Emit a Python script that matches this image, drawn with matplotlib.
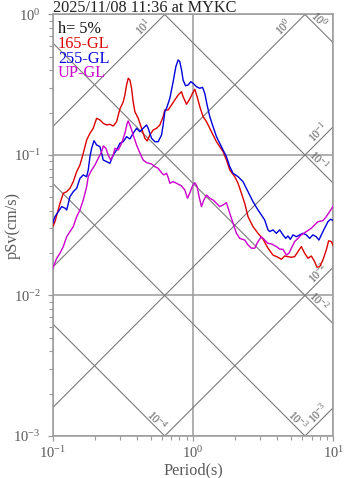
import numpy as np
import matplotlib
matplotlib.use("Agg")
import matplotlib.pyplot as plt
from matplotlib.ticker import LogLocator, NullFormatter

plt.rcParams["font.family"] = ["Liberation Serif", "DejaVu Serif"]
plt.rcParams["mathtext.fontset"] = "custom"
plt.rcParams["mathtext.rm"] = "Liberation Serif"
plt.rcParams["mathtext.it"] = "Liberation Serif:italic"
plt.rcParams["mathtext.bf"] = "Liberation Serif:bold"

TITLE = "2025/11/08 11:36 at MYKC"
DAMPING = "h= 5%"

# -------------------------------------------------------
# Pseudo velocity response spectra (cm/s), 5% damping
# -------------------------------------------------------
period_165 = [
    0.1, 0.1038, 0.1078, 0.1127, 0.1190, 0.1258, 0.1327, 0.1401, 0.1482, 0.1564,
    0.1651, 0.1746, 0.1843, 0.1945, 0.2056, 0.2171, 0.2292, 0.2423, 0.2557, 0.2700,
    0.2854, 0.3013, 0.3180, 0.3270, 0.3362, 0.3452, 0.3549, 0.3649, 0.3746, 0.3852,
    0.4067, 0.4299, 0.4539, 0.4713, 0.4926, 0.5200, 0.5498, 0.5803, 0.6126, 0.6299,
    0.6649, 0.7030, 0.7422, 0.7834, 0.8284, 0.8502, 0.8990, 0.9489, 0.9918, 1.030,
    1.070, 1.118, 1.180, 1.248, 1.317, 1.390, 1.470, 1.551, 1.638, 1.731,
    1.828, 1.984, 2.094, 2.214, 2.337, 2.467, 2.678, 2.906, 3.154, 3.423,
    3.717, 4.034, 4.265, 4.502, 4.752, 5.024, 5.303, 5.598, 5.919, 6.248,
    6.596, 6.974, 7.361, 7.644, 7.988, 8.433, 8.917, 9.259, 9.678, 10.0,
]
sv_165 = [
    0.0309, 0.0335, 0.0385, 0.0453, 0.0534, 0.0548, 0.0579, 0.0646, 0.0761, 0.0849,
    0.1028, 0.1279, 0.1427, 0.1549, 0.1825, 0.1775, 0.1681, 0.1635, 0.1654, 0.1608,
    0.1726, 0.2125, 0.2384, 0.2673, 0.3149, 0.3515, 0.3419, 0.2983, 0.2395, 0.2033,
    0.1825, 0.1549, 0.1315, 0.1258, 0.1388, 0.1506, 0.1549, 0.1635, 0.1874, 0.2091,
    0.2091, 0.2270, 0.2464, 0.2673, 0.2822, 0.2599, 0.2296, 0.2504, 0.2749, 0.2935,
    0.2599, 0.2207, 0.1874, 0.1726, 0.1549, 0.1388, 0.1243, 0.1146, 0.1055, 0.0921,
    0.0782, 0.0701, 0.0629, 0.0534, 0.0453, 0.0364, 0.0309, 0.0277, 0.0252, 0.0217,
    0.0194, 0.0187, 0.0181, 0.0191, 0.0189, 0.0187, 0.0189, 0.0205, 0.0223, 0.0200,
    0.0184, 0.0191, 0.0174, 0.0159, 0.0160, 0.0179, 0.0211, 0.0245, 0.0242, 0.0225,
]

period_255 = [
    0.1, 0.1038, 0.1096, 0.1159, 0.1224, 0.1258, 0.1327, 0.1401, 0.1482, 0.1564,
    0.1651, 0.1746, 0.1792, 0.1843, 0.1895, 0.1968, 0.2056, 0.2171, 0.2233, 0.2292,
    0.2423, 0.2557, 0.2700, 0.2854, 0.3013, 0.3180, 0.3362, 0.3549, 0.3746, 0.3961,
    0.4182, 0.4413, 0.4667, 0.4791, 0.5066, 0.5348, 0.5644, 0.5967, 0.6126, 0.6299,
    0.6478, 0.6839, 0.7219, 0.7546, 0.7834, 0.8054, 0.8284, 0.8502, 0.8843, 0.9229,
    0.9645, 1.0, 1.059, 1.118, 1.169, 1.213, 1.260, 1.317, 1.390, 1.470,
    1.551, 1.638, 1.731, 1.828, 1.929, 2.094, 2.273, 2.467, 2.678, 2.906,
    3.073, 3.243, 3.423, 3.521, 3.717, 3.929, 4.148, 4.378, 4.576, 4.752,
    4.942, 5.158, 5.453, 5.756, 6.075, 6.424, 6.781, 7.157, 7.568, 7.899,
    8.214, 8.672, 9.155, 9.568, 10.0,
]
sv_255 = [
    0.0327, 0.0364, 0.0395, 0.0429, 0.0418, 0.0406, 0.0505, 0.0548, 0.0579, 0.0682,
    0.0721, 0.0701, 0.0782, 0.0973, 0.1116, 0.1264, 0.1178, 0.1146, 0.1028, 0.0921,
    0.0896, 0.0873, 0.1000, 0.1085, 0.1211, 0.1243, 0.1350, 0.1300, 0.1427, 0.1549,
    0.1465, 0.1549, 0.1635, 0.1549, 0.1315, 0.1243, 0.1243, 0.1388, 0.1635, 0.2033,
    0.2149, 0.2533, 0.3324, 0.4251, 0.4746, 0.4615, 0.4027, 0.3419, 0.3113, 0.3149,
    0.3324, 0.3238, 0.3063, 0.2983, 0.3033, 0.2749, 0.2270, 0.1874, 0.1590, 0.1350,
    0.1211, 0.1085, 0.0973, 0.0826, 0.0741, 0.0701, 0.0646, 0.0548, 0.0465, 0.0406,
    0.0374, 0.0345, 0.0293, 0.0285, 0.0293, 0.0277, 0.0293, 0.0270, 0.0255, 0.0265,
    0.0251, 0.0270, 0.0262, 0.0270, 0.0277, 0.0270, 0.0255, 0.0270, 0.0262, 0.0248,
    0.0270, 0.0301, 0.0335, 0.0349, 0.0341,
]

period_up = [
    0.1, 0.1068, 0.1127, 0.1190, 0.1258, 0.1327, 0.1401, 0.1482, 0.1564, 0.1651,
    0.1746, 0.1792, 0.1895, 0.2000, 0.2111, 0.2233, 0.2292, 0.2395, 0.2487, 0.2587,
    0.2700, 0.2776, 0.2930, 0.3098, 0.3270, 0.3396, 0.3452, 0.3590, 0.3746, 0.3961,
    0.4182, 0.4413, 0.4667, 0.5066, 0.5348, 0.5644, 0.5967, 0.6196, 0.6478, 0.6649,
    0.6839, 0.7219, 0.7630, 0.8284, 0.8743, 0.9138, 0.9489, 0.9918, 1.030, 1.070,
    1.105, 1.149, 1.194, 1.248, 1.317, 1.390, 1.470, 1.551, 1.638, 1.731,
    1.828, 1.929, 2.040, 2.153, 2.337, 2.467, 2.609, 2.754, 2.906, 3.073,
    3.243, 3.423, 3.620, 3.929, 4.148, 4.378, 4.630, 4.831, 5.024, 5.303,
    5.598, 5.919, 6.424, 6.974, 7.361, 7.770, 8.433, 8.917, 9.412, 10.0,
]
sv_up = [
    0.0156, 0.0184, 0.0200, 0.0223, 0.0262, 0.0285, 0.0309, 0.0364, 0.0406, 0.0478,
    0.0595, 0.0701, 0.0782, 0.0849, 0.0947, 0.1055, 0.1159, 0.1116, 0.1000, 0.0921,
    0.1000, 0.1116, 0.1085, 0.1211, 0.1427, 0.1681, 0.1746, 0.1590, 0.1388, 0.1178,
    0.1033, 0.0921, 0.0882, 0.0863, 0.0826, 0.0804, 0.0748, 0.0721, 0.0741, 0.0694,
    0.0629, 0.0646, 0.0629, 0.0602, 0.0564, 0.0492, 0.0536, 0.0602, 0.0635, 0.0595,
    0.0505, 0.0429, 0.0478, 0.0519, 0.0492, 0.0478, 0.0453, 0.0429, 0.0441, 0.0458,
    0.0385, 0.0327, 0.0277, 0.0255, 0.0248, 0.0229, 0.0217, 0.0217, 0.0242, 0.0262,
    0.0248, 0.0235, 0.0233, 0.0223, 0.0214, 0.0213, 0.0194, 0.0200, 0.0217, 0.0242,
    0.0255, 0.0270, 0.0285, 0.0301, 0.0318, 0.0335, 0.0341, 0.0364, 0.0395, 0.0434,
]

series = [
    ("165-GL", period_165, sv_165, "#dd0000"),
    ("255-GL", period_255, sv_255, "#0000dd"),
    ("UP-GL", period_up, sv_up, "#cc00cc"),
]

# tripartite guide lines: displacement (cm) and acceleration (cm/s^2) decades
disp_exps = [-4, -3, -2, -1, 0]
acc_exps = [-3, -2, -1, 0, 1]

T_MIN, T_MAX = 0.1, 10.0
V_MIN, V_MAX = 1e-3, 1.0

GUIDE = "#7a7a7a"
GRID = "#9a9a9a"
LABEL = "#5a5a5a"
TEXT_SIZE = 11.7

# -------------------------------------------------------
# Figure
# -------------------------------------------------------
fig = plt.figure(figsize=(3.47, 4.78), dpi=100)
ax = fig.add_axes([0.1519, 0.0879, 0.8086, 0.8818])
ax.set_xscale("log")
ax.set_yscale("log")
ax.set_xlim(T_MIN, T_MAX)
ax.set_ylim(V_MIN, V_MAX)

ax.grid(True, which="major", color=GRID, lw=1.1, zorder=1)
ax.set_axisbelow(True)

t_line = np.array([0.01, 100.0])

# constant displacement lines: pSv = 2*pi*Sd / T
for e in disp_exps:
    sd = 10.0 ** e
    ax.plot(t_line, 2 * np.pi * sd / t_line, color=GUIDE, lw=0.8, zorder=2)
    t_end = min(T_MAX, 2 * np.pi * sd / V_MIN)
    back = 0.135 if t_end >= T_MAX else 0.085
    t_lab = t_end * 10 ** (-back)
    ax.annotate(f"$10^{{{e}}}$", xy=(t_lab, 2 * np.pi * sd / t_lab),
                xytext=(3.0, 3.0), textcoords="offset points",
                rotation=-45, rotation_mode="anchor", ha="center", va="center",
                fontsize=8.5, color=LABEL, annotation_clip=False)

# constant acceleration lines: pSv = pSa * T / (2*pi)
for e in acc_exps:
    sa = 10.0 ** e
    ax.plot(t_line, sa * t_line / (2 * np.pi), color=GUIDE, lw=0.8, zorder=2)
    t_end = min(T_MAX, 2 * np.pi * V_MAX / sa)
    back = 0.075 if t_end >= T_MAX else 0.12
    t_lab = t_end * 10 ** (-back)
    ax.annotate(f"$10^{{{e}}}$", xy=(t_lab, sa * t_lab / (2 * np.pi)),
                xytext=(-3.3, 3.3), textcoords="offset points",
                rotation=45, rotation_mode="anchor", ha="center", va="center",
                fontsize=8.5, color=LABEL, annotation_clip=False)

for name, t, v, c in series:
    ax.plot(t, v, color=c, lw=1.0, zorder=4)

# legend as plain coloured text
ax.text(0.019, 0.9556, DAMPING, transform=ax.transAxes, fontsize=TEXT_SIZE,
        color="#111111", va="baseline", zorder=5)
for i, (name, t, v, c) in enumerate(series):
    ax.text(0.019, 0.9208 - i * 0.0349, name, transform=ax.transAxes,
            fontsize=TEXT_SIZE, color=c, va="baseline", zorder=5)

# -------------------------------------------------------
# Axes styling
# -------------------------------------------------------
for s in ax.spines.values():
    s.set_color(GRID)
    s.set_linewidth(1.1)

ax.xaxis.set_major_locator(LogLocator(base=10, numticks=10))
ax.yaxis.set_major_locator(LogLocator(base=10, numticks=10))
ax.xaxis.set_minor_locator(LogLocator(base=10, subs=np.arange(2, 10), numticks=20))
ax.yaxis.set_minor_locator(LogLocator(base=10, subs=np.arange(2, 10), numticks=20))
ax.xaxis.set_minor_formatter(NullFormatter())
ax.yaxis.set_minor_formatter(NullFormatter())

ax.tick_params(which="both", direction="out", top=False, right=False,
               color=GRID, labelcolor=LABEL, labelsize=10.5)
ax.tick_params(which="major", length=3.6, width=0.9, pad=3)
ax.tick_params(which="minor", length=2.8, width=0.8)
ax.tick_params(axis="y", which="major", pad=5)

fig.text(53.0 / 347, 1 - 12.5 / 478, TITLE, fontsize=TEXT_SIZE, color="#222222",
         ha="left", va="baseline")
fig.text(193.5 / 347, 1 - 474.0 / 478, "Period(s)", fontsize=TEXT_SIZE, color=LABEL,
         ha="center", va="baseline")
fig.text(12.5 / 347, 1 - 225.5 / 478, "pSv(cm/s)", fontsize=TEXT_SIZE, color=LABEL,
         ha="center", va="center", rotation=90)

fig.savefig("out.png", dpi=100)
plt.close(fig)
